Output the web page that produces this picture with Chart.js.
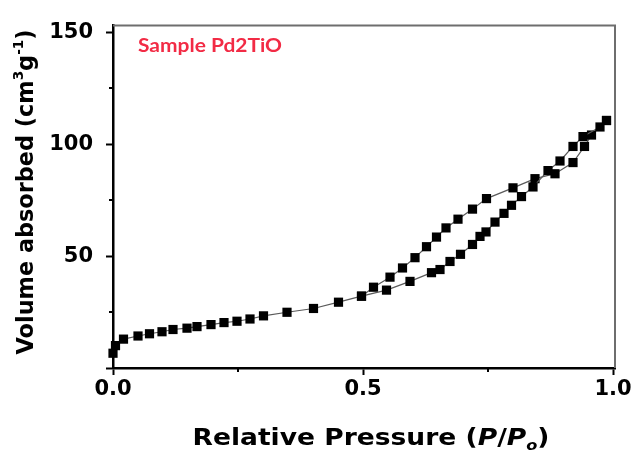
<!DOCTYPE html>
<html>
<head>
<meta charset="utf-8">
<script src="https://cdn.jsdelivr.net/npm/chart.js@4.4.1/dist/chart.umd.min.js"></script>
<style>
  html, body { margin: 0; padding: 0; background: #fff; }
  canvas { display: block; }
</style>
</head>
<body>
<canvas id="myChart" width="636" height="450"></canvas>
<script>
// adsorption branch, low to high relative pressure
let adsX = [0.000, 0.005, 0.021, 0.050, 0.073, 0.098, 0.120, 0.148, 0.168, 0.196, 0.222, 0.248,
            0.274, 0.301, 0.348, 0.401, 0.451, 0.497, 0.547, 0.594, 0.637, 0.654, 0.674, 0.695,
            0.719, 0.734, 0.746, 0.764, 0.782, 0.797, 0.817, 0.840, 0.870, 0.894, 0.920, 0.940,
            0.974, 0.987]
let adsY = [6.6, 10.0, 12.9, 14.3, 15.3, 16.2, 17.2, 17.8, 18.5, 19.4, 20.3, 20.9,
            21.9, 23.3, 24.9, 26.6, 29.4, 32.1, 34.8, 38.7, 42.6, 44.0, 47.6, 50.8,
            55.2, 58.8, 60.8, 65.2, 69.1, 72.7, 76.6, 80.9, 88.2, 92.5, 99.0, 103.4,
            107.7, 110.6]

// desorption branch, high back down to where the loop closes
let desX = [0.987, 0.957, 0.943, 0.920, 0.884, 0.844, 0.800, 0.747, 0.719, 0.690, 0.666, 0.647,
            0.627, 0.604, 0.579, 0.554, 0.521, 0.497]
let desY = [110.6, 104.1, 99.0, 91.8, 86.8, 84.6, 80.5, 75.7, 71.0, 66.5, 62.6, 58.5,
            54.2, 49.3, 44.7, 40.6, 36.1, 32.1]

let xTicks = [0, 0.25, 0.5, 0.75, 1.0]
let xMajor = [0, 0.5, 1.0]
let xLabels = ['0.0', '0.5', '1.0']

let yTicks = [0, 25, 50, 75, 100, 125, 150]
let yMajor = [0, 50, 100, 150]
let yLabels = ['', '50', '100', '150']

let corPonto = '#000000'
let corLinha = '#5a5a5a'
let corMoldura = '#6e6e6e'
let corAmostra = '#f22b45'
let fonteEixo = '"DejaVu Sans", sans-serif'

function indexOf(list, v) {
    return list.findIndex(m => Math.abs(m - v) < 1e-6)
}

function toPoints(xs, ys) {
    return xs.map((x, i) => ({ x: x, y: ys[i] }))
}

// text made of runs: plain, italic, superscript, subscript
function runFont(p, size) {
    let sz = (p.sup || p.sub) ? Math.round(size * 0.62) : size
    return (p.it ? 'italic ' : '') + 'bold ' + sz + 'px ' + fonteEixo
}

function runsWidth(c, runs, size) {
    let w = 0
    runs.forEach(p => {
        c.font = runFont(p, size)
        w += c.measureText(p.t).width
    })
    return w
}

function drawRuns(c, runs, cx, base, size, rot, largura) {
    let w = runsWidth(c, runs, size)
    c.save()
    c.translate(cx, base)
    c.rotate(rot)
    c.scale(largura / w, 1)
    c.fillStyle = '#000'
    c.textBaseline = 'alphabetic'
    c.textAlign = 'left'
    let x = -w / 2
    runs.forEach(p => {
        c.font = runFont(p, size)
        let dy = p.sup ? -size * 0.42 : (p.sub ? size * 0.22 : 0)
        c.fillText(p.t, x, dy)
        x += c.measureText(p.t).width
    })
    c.restore()
}

let tituloX = [
    { t: 'Relative Pressure (' },
    { t: 'P', it: true },
    { t: '/' },
    { t: 'P', it: true },
    { t: 'o', it: true, sub: true },
    { t: ')' }
]

let tituloY = [
    { t: 'Volume absorbed (cm' },
    { t: '3', sup: true },
    { t: 'g' },
    { t: '-1', sup: true },
    { t: ')' }
]

// frame on top/right, short minor ticks, axis titles and the sample tag
const moldura = {
    id: 'moldura',
    afterDraw(chart) {
        let c = chart.ctx
        let a = chart.chartArea
        let sx = chart.scales.x
        let sy = chart.scales.y

        c.save()
        c.strokeStyle = corMoldura
        c.lineWidth = 2
        c.beginPath()
        c.moveTo(a.left, a.top)
        c.lineTo(a.right, a.top)
        c.lineTo(a.right, a.bottom)
        c.stroke()

        c.strokeStyle = '#000'
        c.lineWidth = 2
        c.beginPath()
        xTicks.forEach(v => {
            if (indexOf(xMajor, v) < 0) {
                let px = Math.round(sx.getPixelForValue(v))
                c.moveTo(px, a.bottom)
                c.lineTo(px, a.bottom + 4)
            }
        })
        yTicks.forEach(v => {
            if (indexOf(yMajor, v) < 0) {
                let py = Math.round(sy.getPixelForValue(v))
                c.moveTo(a.left - 4, py)
                c.lineTo(a.left, py)
            }
        })
        c.stroke()
        c.restore()

        drawRuns(c, tituloX, 371, 445, 23, 0, 357)
        drawRuns(c, tituloY, 33, 192, 23, -Math.PI / 2, 325)

        c.save()
        c.fillStyle = corAmostra
        c.font = 'bold 19px Lato, sans-serif'
        c.textBaseline = 'alphabetic'
        let texto = 'Sample Pd2TiO'
        let w = c.measureText(texto).width
        c.translate(138, 52)
        c.scale(144 / w, 1)
        c.fillText(texto, 0, 0)
        c.restore()
    }
}

const serie = (pts) => ({
    data: pts,
    showLine: true,
    borderColor: corLinha,
    borderWidth: 1.2,
    pointStyle: 'rect',
    pointRadius: 6.5,
    pointHoverRadius: 6.5,
    pointBackgroundColor: corPonto,
    pointBorderColor: corPonto,
    pointBorderWidth: 0,
    tension: 0,
    clip: false
})

const ctx = document.getElementById('myChart').getContext('2d')
let myChart = new Chart(ctx, {
    type: 'scatter',
    data: {
        datasets: [
            Object.assign({ label: 'Adsorption' }, serie(toPoints(adsX, adsY))),
            Object.assign({ label: 'Desorption' }, serie(toPoints(desX, desY)))
        ]
    },
    options: {
        responsive: false,
        animation: false,
        layout: { padding: { top: 16, right: 21, left: 0, bottom: 0 } },
        plugins: {
            legend: { display: false },
            tooltip: { enabled: false }
        },
        scales: {
            x: {
                type: 'linear',
                min: 0,
                max: 1.004,
                afterBuildTicks: s => { s.ticks = xTicks.map(v => ({ value: v })) },
                afterFit: s => { s.height = 82 },
                ticks: {
                    autoSkip: false,
                    maxRotation: 0,
                    padding: 2,
                    color: '#000',
                    font: { family: fonteEixo, size: 21, weight: 'bold' },
                    callback: v => {
                        let i = indexOf(xMajor, v)
                        return i >= 0 ? xLabels[i] : ''
                    }
                },
                grid: {
                    drawOnChartArea: false,
                    tickLength: 7,
                    tickWidth: 2,
                    tickColor: c => indexOf(xMajor, c.tick.value) >= 0 ? '#000' : 'rgba(0,0,0,0)'
                },
                border: { color: '#000', width: 2.5 }
            },
            y: {
                type: 'linear',
                min: 0,
                max: 153,
                afterBuildTicks: s => { s.ticks = yTicks.map(v => ({ value: v })) },
                afterFit: s => { s.width = 113 },
                ticks: {
                    autoSkip: false,
                    padding: 13,
                    color: '#000',
                    font: { family: fonteEixo, size: 21, weight: 'bold' },
                    callback: v => {
                        let i = indexOf(yMajor, v)
                        return i >= 0 ? yLabels[i] : ''
                    }
                },
                grid: {
                    drawOnChartArea: false,
                    tickLength: 7,
                    tickWidth: 2,
                    tickColor: c => indexOf(yMajor, c.tick.value) >= 0 ? '#000' : 'rgba(0,0,0,0)'
                },
                border: { color: '#000', width: 2.5 }
            }
        }
    },
    plugins: [moldura]
})
</script>
</body>
</html>
